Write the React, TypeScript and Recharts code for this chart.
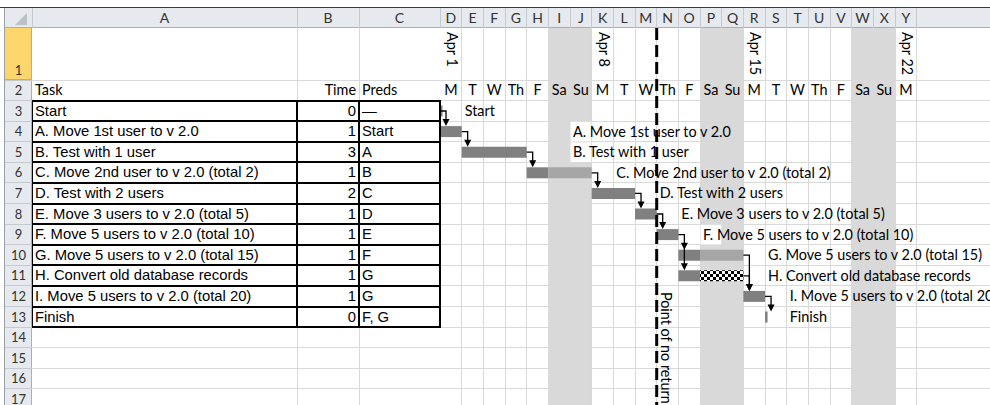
import React from "react";
import { BarChart, Bar, XAxis, YAxis, ReferenceArea, ReferenceLine } from "recharts";

// ---- sheet contents ----
const tasks = [
  "Start",
  "A. Move 1st user to v 2.0",
  "B. Test with 1 user",
  "C. Move 2nd user to v 2.0 (total 2)",
  "D. Test with 2 users",
  "E. Move 3 users to v 2.0 (total 5)",
  "F. Move 5 users to v 2.0 (total 10)",
  "G. Move 5 users to v 2.0 (total 15)",
  "H. Convert old database records",
  "I. Move 5 users to v 2.0 (total 20)",
  "Finish",
];
const times = [0, 1, 3, 1, 2, 1, 1, 1, 1, 1, 0];
const preds = ["—", "Start", "A", "B", "C", "D", "E", "F", "G", "G", "F, G"];

// gantt, in days from Apr 1
const startDays = [0, 0, 1, 4, 7, 9, 10, 11, 11, 14, 15];
const workDays = [0, 1, 3, 1, 2, 1, 1, 1, 1, 1, 0];
const weekendDays = [0, 0, 0, 2, 0, 0, 0, 2, 0, 0, 0];
const convertDays = [0, 0, 0, 0, 0, 0, 0, 0, 2, 0, 0];
const labelDays = [1, 6, 6, 8, 10, 11, 12, 15, 15, 16, 16];
const successors = [[1], [2], [3], [4], [5], [6], [7, 8], [9], [9], [10], []];

const dayLetters = ["M", "T", "W", "Th", "F", "Sa", "Su"];
const dateLabels = ["Apr 1", "Apr 8", "Apr 15", "Apr 22"];
const weekendStarts = [5, 12, 19];
const pointOfNoReturn = 10;
const colLetters = ["A", "B", "C", "D", "E", "F", "G", "H", "I", "J", "K", "L", "M", "N", "O", "P", "Q", "R", "S", "T", "U", "V", "W", "X", "Y"];

// ---- layout ----
const PAGE_W = 990;
const PAGE_H = 405;
const SHEET_X = 5;
const HEAD_TOP = 8;
const ROW1_TOP = 28;
const ROW1_H = 52;
const ROW2_H = 20.5;
const ROW_H = 20.6;
const COL_X = [32, 297, 359, 440]; // A, B, C, D
const DAY_W = 21.67;
const N_DAYS = 22;
const GANTT_ROWS = 15;
const BAR_H = 11;
const CHART_W = PAGE_W - COL_X[3];
const CHART_H = ROW1_H + ROW2_H + GANTT_ROWS * ROW_H;
const X_MAX = CHART_W / DAY_W;

const CAL = "Lato, 'Open Sans', sans-serif";
const ARIAL = "'Liberation Sans', Arial, sans-serif";
const CAL_SIZE = 14.4;
const GRID = "#d9d9d9";
const HEAD_BG = "#e6e9ed";
const HEAD_LINE = "#c5cad1";

const rowTop = (r: number) => (r === 1 ? ROW1_TOP : r === 2 ? ROW1_TOP + ROW1_H : ROW1_TOP + ROW1_H + ROW2_H + (r - 3) * ROW_H);
const rowH = (r: number) => (r === 1 ? ROW1_H : r === 2 ? ROW2_H : ROW_H);
const isWeekend = (d: number) => d % 7 >= 5;

const ganttRows = Array.from({ length: GANTT_ROWS }, (_, i) => {
  if (i >= tasks.length) {
    return { key: `r${i}`, idx: i, task: "", offset: 0, work: 0, slack: 0, convert: 0, gap: 0, tag: 0, succ: [], labelDay: 0 };
  }
  const end = startDays[i] + workDays[i] + weekendDays[i] + convertDays[i];
  return {
    key: `r${i}`,
    idx: i,
    task: tasks[i],
    offset: startDays[i],
    work: workDays[i],
    slack: weekendDays[i],
    convert: convertDays[i],
    gap: labelDays[i] - end,
    tag: 0,
    succ: successors[i],
    labelDay: labelDays[i],
  };
});
const dayTicks = Array.from({ length: N_DAYS }, (_, i) => i + 0.5);

function DayTick(props: any) {
  const { x, index } = props;
  const date = index % 7 === 0 ? dateLabels[index / 7] : null;
  return (
    <g>
      <text x={x} y={ROW1_H + 15} textAnchor="middle" fontSize={CAL_SIZE} fontFamily={CAL} fill="#000">
        {dayLetters[index % 7]}
      </text>
      {date && (
        <text transform={`translate(${x - 4}, 4) rotate(90)`} fontSize={CAL_SIZE} fontFamily={CAL} fill="#000">
          {date}
        </text>
      )}
    </g>
  );
}

function WeekendShape(props: any) {
  const { x, y, width, height } = props;
  return <rect x={x} y={0} width={width} height={y + height} fill="#d9d9d9" />;
}

function LinkShape(props: any) {
  const { x, y, height, payload } = props;
  if (!payload.task) return null;
  const cy = y + height / 2;
  const vx = x + 6;
  const tops = payload.succ.map((t: number) => y + (t - payload.idx) * ROW_H);
  const milestone = payload.work + payload.slack + payload.convert === 0;
  return (
    <g>
      {milestone && <rect x={x} y={y} width={2.5} height={height} fill="#808080" />}
      {tops.length > 0 && (
        <path d={`M${x},${cy}H${vx}V${Math.max(...tops) - 5}`} stroke="#000" strokeWidth={1.3} fill="none" />
      )}
      {tops.map((t: number) => (
        <polygon key={t} points={`${vx - 3.5},${t - 7} ${vx + 3.5},${t - 7} ${vx},${t}`} fill="#000" />
      ))}
    </g>
  );
}

function TagShape(props: any) {
  const { x, y, height, payload } = props;
  if (!payload.task) return null;
  const cy = y + height / 2;
  return (
    <g>
      {isWeekend(payload.labelDay) && (
        <rect x={x + 0.5} y={cy - ROW_H / 2 + 0.5} width={DAY_W - 1} height={ROW_H - 1} fill="#fff" />
      )}
      <text x={x + 3} y={cy + 5} fontSize={CAL_SIZE} fontFamily={CAL} fill="#000">
        {payload.task}
      </text>
    </g>
  );
}

function NoReturnShape(props: any) {
  const { x1, y1, y2 } = props;
  const top = Math.min(y1, y2);
  const bottom = Math.max(y1, y2);
  return (
    <g>
      <line x1={x1} y1={0} x2={x1} y2={bottom} stroke="#000" strokeWidth={3} strokeDasharray="12 5" />
      <text transform={`translate(${x1 + 4}, ${top + 9 * ROW_H + 6}) rotate(90)`} fontSize={CAL_SIZE} fontFamily={CAL} fill="#000">
        Point of no return
      </text>
    </g>
  );
}

const abs = (s: React.CSSProperties): React.CSSProperties => ({ position: "absolute", ...s });

export default function App() {
  const dayEdges = Array.from({ length: N_DAYS }, (_, k) => COL_X[3] + (k + 1) * DAY_W);
  const vGrid = [COL_X[1], COL_X[2], ...dayEdges];
  const rowNums = Array.from({ length: 17 }, (_, i) => i + 1);
  const colCenters = colLetters.map((_, i) =>
    i < 3 ? (COL_X[i] + COL_X[i + 1]) / 2 : COL_X[3] + (i - 3 + 0.5) * DAY_W
  );
  const colBounds = [COL_X[0], COL_X[1], COL_X[2], COL_X[3], ...dayEdges];
  const tableTop = rowTop(3);
  const tableBottom = rowTop(3 + tasks.length);

  return (
    <div style={abs({ left: 0, top: 0, width: PAGE_W, height: PAGE_H, overflow: "hidden", background: "#fff" })}>
      {/* gridlines */}
      {vGrid.map((x, i) => (
        <div key={`v${i}`} style={abs({ left: Math.floor(x), top: ROW1_TOP, width: 1, height: PAGE_H, background: GRID })} />
      ))}
      {rowNums.map((r) => (
        <div key={`h${r}`} style={abs({ left: COL_X[0], top: Math.floor(rowTop(r) + rowH(r)), width: PAGE_W, height: 1, background: GRID })} />
      ))}

      {/* gantt */}
      <div style={abs({ left: COL_X[3], top: ROW1_TOP, width: CHART_W, height: CHART_H })}>
        <BarChart
          width={CHART_W}
          height={CHART_H}
          data={ganttRows}
          layout="vertical"
          margin={{ top: 0, right: 0, bottom: 0, left: 0 }}
          barSize={BAR_H}
        >
          <defs>
            <pattern id="checker" width={6} height={6} patternUnits="userSpaceOnUse">
              <rect width={6} height={6} fill="#fff" />
              <rect width={3} height={3} fill="#000" />
              <rect x={3} y={3} width={3} height={3} fill="#000" />
            </pattern>
          </defs>
          {weekendStarts.map((d) => (
            <ReferenceArea key={d} x1={d} x2={d + 2} shape={WeekendShape} ifOverflow="visible" />
          ))}
          <XAxis
            type="number"
            orientation="top"
            domain={[0, X_MAX]}
            ticks={dayTicks}
            interval={0}
            height={ROW1_H + ROW2_H}
            axisLine={false}
            tickLine={false}
            tick={(p: any) => <DayTick {...p} />}
          />
          <YAxis type="category" dataKey="key" hide />
          <Bar dataKey="offset" stackId="g" fill="transparent" isAnimationActive={false} />
          <Bar dataKey="work" stackId="g" fill="#808080" isAnimationActive={false} />
          <Bar dataKey="slack" stackId="g" fill="#a6a6a6" isAnimationActive={false} />
          <Bar dataKey="convert" stackId="g" fill="url(#checker)" isAnimationActive={false} />
          <Bar dataKey="gap" stackId="g" shape={(p: any) => <LinkShape {...p} />} isAnimationActive={false} />
          <Bar dataKey="tag" stackId="g" shape={(p: any) => <TagShape {...p} />} isAnimationActive={false} />
          <ReferenceLine x={pointOfNoReturn} shape={(p: any) => <NoReturnShape {...p} />} ifOverflow="visible" />
        </BarChart>
      </div>

      {/* table A2:C13 text */}
      <div style={abs({ left: COL_X[0] + 3, top: rowTop(2), height: ROW2_H, lineHeight: `${ROW2_H}px`, fontFamily: CAL, fontSize: CAL_SIZE })}>Task</div>
      <div style={abs({ left: COL_X[1], width: COL_X[2] - COL_X[1] - 3, textAlign: "right", top: rowTop(2), lineHeight: `${ROW2_H}px`, fontFamily: CAL, fontSize: CAL_SIZE })}>Time</div>
      <div style={abs({ left: COL_X[2] + 3, top: rowTop(2), lineHeight: `${ROW2_H}px`, fontFamily: CAL, fontSize: CAL_SIZE })}>Preds</div>
      {tasks.map((t, i) => {
        const top = rowTop(i + 3);
        const base: React.CSSProperties = { top, height: ROW_H, lineHeight: `${ROW_H}px`, fontFamily: ARIAL, fontSize: 14.8, whiteSpace: "nowrap" };
        return (
          <React.Fragment key={t}>
            <div style={abs({ ...base, left: COL_X[0] + 3 })}>{t}</div>
            <div style={abs({ ...base, left: COL_X[1], width: COL_X[2] - COL_X[1] - 3, textAlign: "right" })}>{times[i]}</div>
            <div style={abs({ ...base, left: COL_X[2] + 3 })}>{preds[i]}</div>
          </React.Fragment>
        );
      })}
      {/* table borders */}
      {Array.from({ length: tasks.length + 1 }, (_, i) => (
        <div key={`tb${i}`} style={abs({ left: COL_X[0] - 1, top: tableTop + i * ROW_H - 1, width: COL_X[3] - COL_X[0] + 2, height: 2, background: "#000" })} />
      ))}
      {COL_X.map((x) => (
        <div key={`tv${x}`} style={abs({ left: x - 1, top: tableTop - 1, width: 2, height: tableBottom - tableTop + 2, background: "#000" })} />
      ))}

      {/* column headers */}
      <div style={abs({ left: 0, top: HEAD_TOP - 1, width: PAGE_W, height: 1, background: "#3c3c3c" })} />
      <div style={abs({ left: SHEET_X, top: HEAD_TOP, width: PAGE_W, height: ROW1_TOP - HEAD_TOP, background: HEAD_BG, borderBottom: "1px solid #a9afb7", boxSizing: "border-box" })} />
      {colBounds.map((x) => (
        <div key={`cb${x}`} style={abs({ left: Math.floor(x), top: HEAD_TOP, width: 1, height: ROW1_TOP - HEAD_TOP, background: HEAD_LINE })} />
      ))}
      <div style={abs({ left: Math.floor(COL_X[3] + N_DAYS * DAY_W), top: HEAD_TOP, width: 1, height: ROW1_TOP - HEAD_TOP, background: HEAD_LINE })} />
      {colLetters.map((c, i) => (
        <div key={c} style={abs({ left: colCenters[i] - 15, width: 30, textAlign: "center", top: HEAD_TOP, lineHeight: `${ROW1_TOP - HEAD_TOP}px`, fontFamily: CAL, fontSize: 14, color: "#333" })}>{c}</div>
      ))}
      <svg style={abs({ left: SHEET_X, top: HEAD_TOP, width: COL_X[0] - SHEET_X, height: ROW1_TOP - HEAD_TOP })}>
        <polygon points="22,5 22,17 10,17" fill="#bcc1c7" />
      </svg>

      {/* row headers */}
      <div style={abs({ left: SHEET_X - 1, top: HEAD_TOP, width: 1, height: PAGE_H, background: "#9aa0a7" })} />
      <div style={abs({ left: SHEET_X, top: ROW1_TOP, width: COL_X[0] - SHEET_X, height: PAGE_H, background: HEAD_BG, borderRight: "1px solid #a9afb7", boxSizing: "border-box" })} />
      {rowNums.map((r) => (
        <React.Fragment key={`rh${r}`}>
          {r === 1 && (
            <div style={abs({ left: SHEET_X, top: rowTop(1), width: COL_X[0] - SHEET_X, height: ROW1_H, background: "#fcd56c", borderRight: "1px solid #e0a93e", borderBottom: "1px solid #e0a93e", boxSizing: "border-box" })} />
          )}
          <div style={abs({ left: SHEET_X, top: Math.floor(rowTop(r) + rowH(r)), width: COL_X[0] - SHEET_X, height: 1, background: HEAD_LINE })} />
          <div
            style={abs({
              left: SHEET_X,
              width: COL_X[0] - SHEET_X,
              textAlign: "center",
              top: r === 1 ? rowTop(1) + ROW1_H - 20 : rowTop(r),
              lineHeight: `${r === 1 ? 20 : rowH(r)}px`,
              fontFamily: CAL,
              fontSize: 13,
              color: "#333",
            })}
          >
            {r}
          </div>
        </React.Fragment>
      ))}
    </div>
  );
}
